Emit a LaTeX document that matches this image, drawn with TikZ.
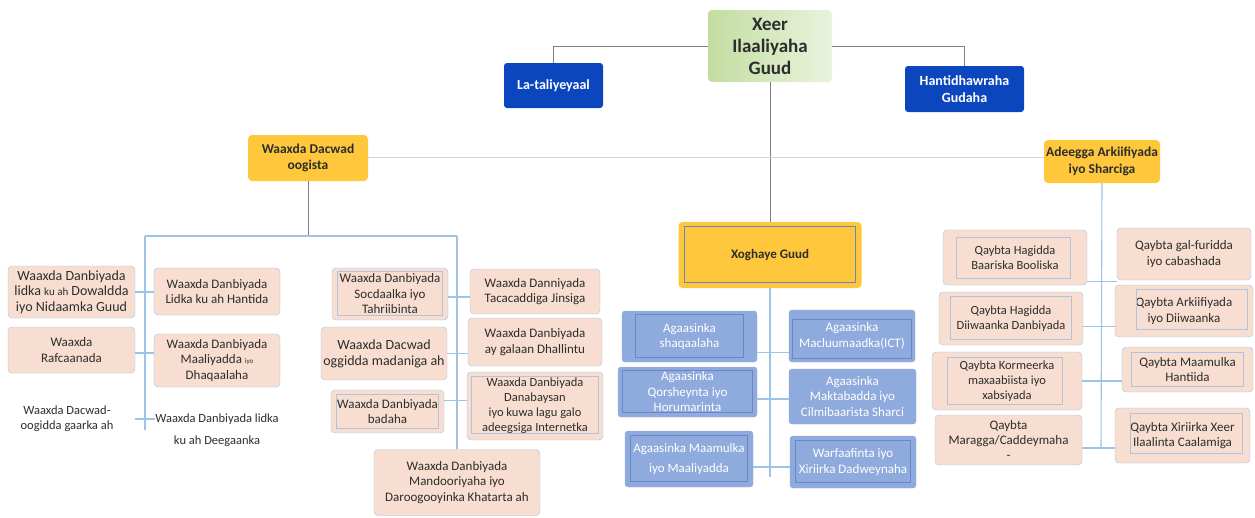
\documentclass[tikz,border=0pt]{standalone}
\usepackage{fontspec}
\setmainfont{Carlito}

\definecolor{peach}{RGB}{248,222,208}
\definecolor{lineblue}{RGB}{157,195,230}
\definecolor{boxblue}{RGB}{143,170,220}
\definecolor{framblue}{RGB}{105,135,200}
\definecolor{peachframe}{RGB}{175,196,220}
\definecolor{navy}{RGB}{12,70,190}
\definecolor{gold}{RGB}{255,200,60}
\definecolor{rootgreenA}{RGB}{194,221,160}
\definecolor{rootgreenB}{RGB}{234,243,222}
\definecolor{greyline}{RGB}{128,128,128}
\definecolor{lightgrey}{RGB}{212,212,212}
\definecolor{textdark}{RGB}{45,45,45}

\begin{document}
\begin{tikzpicture}[x=1pt,y=-1pt,
    rootbox/.style={rounded corners=4pt,left color=rootgreenA,right color=rootgreenB,align=center,text=textdark,font=\fontsize{19}{22}\selectfont\bfseries,inner sep=1pt},
    navybox/.style={rounded corners=3pt,fill=navy,align=center,text=white,font=\fontsize{14}{17}\selectfont\bfseries,inner sep=1pt},
    goldbox/.style={rounded corners=4pt,fill=gold,align=center,text=textdark,font=\fontsize{13.5}{16.5}\selectfont\bfseries,inner sep=1pt},
    peachbox/.style={rounded corners=4pt,fill=peach,draw=lineblue,align=center,text=textdark,font=\fontsize{13}{15.5}\selectfont,inner sep=1pt},
    bluebox/.style={rounded corners=3pt,fill=boxblue,draw=boxblue,align=center,text=white,font=\fontsize{13}{15.5}\selectfont,inner sep=1pt},
    plaintext/.style={align=center,text=textdark,font=\fontsize{12.5}{15}\selectfont,inner sep=0pt},
    topline/.style={draw=greyline,line width=0.9pt},
    faintline/.style={draw=lightgrey,line width=0.9pt},
    bus/.style={draw=lineblue,line width=1.1pt},
    blueframe/.style={draw=framblue,line width=0.8pt},
    peachrule/.style={draw=peachframe,line width=0.7pt}]

    \useasboundingbox (0,0) rectangle (1255,517);

    \node[rootbox,minimum width=124pt,minimum height=72pt] (root) at (770,46) {Xeer\\Ilaaliyaha\\Guud};
    \node[navybox,minimum width=99pt,minimum height=45pt] (lati) at (553.5,85.5) {La-taliyeyaal};
    \node[navybox,minimum width=119pt,minimum height=46pt] (hanti) at (964.5,89) {Hantidhawraha\\Gudaha};

    \node[goldbox,minimum width=120pt,minimum height=46pt] (W0) at (308,158) {Waaxda Dacwad\\oogista};
    \node[goldbox,minimum width=116pt,minimum height=43pt] (A0) at (1102,161.5) {Adeegga Arkiifiyada\\iyo Sharciga};
    \node[goldbox,font=\fontsize{13}{15}\selectfont\bfseries,minimum width=183pt,minimum height=66pt] (X0) at (770,255) {Xoghaye Guud};

    \node[peachbox,font=\fontsize{14}{15.5}\selectfont,minimum width=127pt,minimum height=52pt] (W1_1) at (71.5,292) {Waaxda Danbiyada\\lidka {\fontsize{11}{11}\selectfont ku ah} Dowaldda\\iyo Nidaamka Guud};
    \node[peachbox,minimum width=127pt,minimum height=46pt] (W1_2) at (71.5,350) {Waaxda\\Rafcaanada};
    \node[plaintext,minimum width=136pt] (W1_3) at (67,419) {Waaxda Dacwad-\\oogidda gaarka ah};

    \node[peachbox,minimum width=126pt,minimum height=47pt] (W2_1) at (217,291.5) {Waaxda Danbiyada\\Lidka ku ah Hantida};
    \node[peachbox,minimum width=126pt,minimum height=53pt] (W2_2) at (217,360.5) {Waaxda Danbiyada\\Maaliyadda {\fontsize{7}{7}\selectfont iyo}\\Dhaqaalaha};
    \node[plaintext,font=\fontsize{12.5}{22}\selectfont] (W2_3) at (217,430) {Waaxda Danbiyada lidka\\ku ah Deegaanka};

    \node[peachbox,minimum width=116pt,minimum height=52pt] (W3_1) at (390,294) {Waaxda Danbiyada\\Socdaalka iyo\\Tahriibinta};
    \node[peachbox,font=\fontsize{14}{16}\selectfont,minimum width=126pt,minimum height=53pt] (W3_2) at (384,353.5) {Waaxda Dacwad\\oggidda madaniga ah};
    \node[peachbox,minimum width=113pt,minimum height=43pt] (W3_3) at (387.5,411.5) {Waaxda Danbiyada\\badaha};

    \node[peachbox,minimum width=130pt,minimum height=45pt] (W4_1) at (535,291.5) {Waaxda Danniyada\\Tacacaddiga Jinsiga};
    \node[peachbox,minimum width=134pt,minimum height=48pt] (W4_2) at (535,342) {Waaxda Danbiyada\\ay galaan Dhallintu};
    \node[peachbox,font=\fontsize{12.5}{15}\selectfont,minimum width=136pt,minimum height=68pt] (W4_3) at (535,406) {Waaxda Danbiyada\\Danabaysan\\iyo kuwa lagu galo\\adeegsiga Internetka};

    \node[peachbox,minimum width=166pt,minimum height=66pt] (W5_1) at (457,482.5) {Waaxda Danbiyada\\Mandooriyaha iyo\\Daroogooyinka Khatarta ah};

    \node[bluebox,minimum width=135pt,minimum height=51pt] (G1_1) at (689.5,336.5) {Agaasinka\\shaqaalaha};
    \node[bluebox,minimum width=139pt,minimum height=50pt] (G1_2) at (687.5,392) {Agaasinka\\Qorsheynta iyo\\Horumarinta};
    \node[bluebox,font=\fontsize{13}{20}\selectfont,minimum width=128pt,minimum height=56pt] (G1_3) at (689,459) {Agaasinka Maamulka\\iyo Maaliyadda};

    \node[bluebox,minimum width=126pt,minimum height=52pt] (G2_1) at (852,336) {Agaasinka\\Macluumaadka(ICT)};
    \node[bluebox,minimum width=127pt,minimum height=55pt] (G2_2) at (852.5,396.5) {Agaasinka\\Maktabadda iyo\\Cilmibaarista Sharci};
    \node[bluebox,minimum width=126pt,minimum height=52pt] (G2_3) at (853,462) {Warfaafinta iyo\\Xiriirka Dadweynaha};

    \node[peachbox,font=\fontsize{12.5}{15.5}\selectfont,minimum width=144pt,minimum height=55pt] (Q1_1) at (1015,257.5) {Qaybta Hagidda\\Baariska Booliska};
    \node[peachbox,font=\fontsize{12.5}{15.5}\selectfont,minimum width=144pt,minimum height=53pt] (Q1_2) at (1011,318.5) {Qaybta Hagidda\\Diiwaanka Danbiyada};
    \node[peachbox,font=\fontsize{12.5}{15}\selectfont,minimum width=150pt,minimum height=58pt] (Q1_3) at (1007,381) {Qaybta Kormeerka\\maxaabiista iyo\\xabsiyada};
    \node[peachbox,font=\fontsize{13}{15}\selectfont,minimum width=147pt,minimum height=50pt] (Q1_4) at (1008.5,440) {Qaybta\\Maragga/Caddeymaha\\-};

    \node[peachbox,minimum width=134pt,minimum height=52pt] (Q2_1) at (1184,254) {Qaybta gal-furidda\\iyo cabashada};
    \node[peachbox,minimum width=138pt,minimum height=52pt] (Q2_2) at (1184,311) {Qaybta Arkiifiyada\\iyo Diiwaanka};
    \node[peachbox,minimum width=131pt,minimum height=45pt] (Q2_3) at (1187.5,369.5) {Qaybta Maamulka\\Hantiida};
    \node[peachbox,minimum width=135pt,minimum height=55pt] (Q2_4) at (1182.5,435.5) {Qaybta Xiriirka Xeer\\Ilaalinta Caalamiga};

    \draw[blueframe] ([shift={(6pt,-5pt)}]X0.north west) rectangle ([shift={(-6pt,6pt)}]X0.south east);
    \draw[blueframe] ([shift={(14pt,-4pt)}]G1_1.north west) rectangle ([shift={(-14pt,5pt)}]G1_1.south east);
    \draw[blueframe] ([shift={(5pt,-4pt)}]G1_2.north west) rectangle ([shift={(-5pt,5pt)}]G1_2.south east);
    \draw[blueframe] ([shift={(6pt,-5pt)}]G1_3.north west) rectangle ([shift={(-6pt,6pt)}]G1_3.south east);
    \draw[blueframe] ([shift={(4pt,-10pt)}]G2_1.north west) rectangle ([shift={(-4pt,4pt)}]G2_1.south east);
    \draw[blueframe] ([shift={(6pt,-5pt)}]G2_3.north west) rectangle ([shift={(-6pt,6pt)}]G2_3.south east);

    \draw[peachrule] ([shift={(6pt,-4pt)}]W3_1.north west) rectangle ([shift={(-6pt,5pt)}]W3_1.south east);
    \draw[peachrule] ([shift={(6pt,-5pt)}]W3_3.north west) rectangle ([shift={(-6pt,5pt)}]W3_3.south east);
    \draw[peachrule] ([shift={(5pt,-5pt)}]W4_3.north west) rectangle ([shift={(-5pt,7pt)}]W4_3.south east);
    \draw[peachrule] ([shift={(14pt,-8pt)}]Q1_1.north west) rectangle ([shift={(-17pt,7pt)}]Q1_1.south east);
    \draw[peachrule] ([shift={(12pt,-5pt)}]Q1_2.north west) rectangle ([shift={(-12pt,6pt)}]Q1_2.south east);
    \draw[peachrule] ([shift={(16pt,-6pt)}]Q1_3.north west) rectangle ([shift={(-20pt,6pt)}]Q1_3.south east);
    \draw[peachrule] ([shift={(22pt,-5pt)}]Q2_2.north west) rectangle ([shift={(-6pt,8pt)}]Q2_2.south east);
    \draw[peachrule] ([shift={(10pt,-6pt)}]Q2_3.north west) rectangle ([shift={(-10pt,6pt)}]Q2_3.south east);
    \draw[peachrule] ([shift={(16pt,-6pt)}]Q2_4.north west) rectangle ([shift={(-8pt,10pt)}]Q2_4.south east);

    \draw[topline] (root.west) -| (lati.north);
    \draw[topline] (root.east) -| (hanti.north);
    \draw[topline] (root.south) -- (X0.north);
    \draw[faintline] ([yshift=1pt]W0.east) coordinate (w0e) -- (w0e -| A0.west);

    \coordinate (busL) at (145,236);
    \coordinate (busR) at (457,236);
    \coordinate (busL_end) at (145,430);
    \coordinate (X0_end) at (770,477);
    \coordinate (A0_end) at (1101,448);

    \draw[topline] (W0.south) -- (W0.south |- busL);
    \draw[bus] (busL) -- (busR);
    \draw[bus] (busL) -- (busL_end);
    \draw[bus] (busR) -- (W5_1.north);
    \draw[bus] (X0.south) -- (X0_end);
    \draw[bus] (A0.south) -- (A0_end);

    \draw[bus] (W1_1.east) coordinate (c11) -- (c11 -| W2_1.west);
    \draw[bus] ([yshift=-3pt]W1_2.east) coordinate (c12) -- (c12 -| W2_2.west);
    \draw[bus] (W1_3.east) coordinate (c13) -- (c13 -| W2_3.west);

    \draw[bus] ([yshift=-3pt]W3_1.east) coordinate (c31) -- (c31 -| W4_1.west);
    \draw[bus] (W3_2.east) coordinate (c32) -- (c32 -| W4_2.west);
    \draw[bus] ([yshift=11pt]W3_3.east) coordinate (c33) -- (c33 -| W4_3.west);

    \draw[bus] ([yshift=-16pt]G1_1.east) coordinate (g11) -- (g11 -| G2_1.west);
    \draw[bus] ([yshift=-7pt]G1_2.east) coordinate (g12) -- (g12 -| G2_2.west);
    \draw[bus] ([yshift=-8pt]G1_3.east) coordinate (g13) -- (g13 -| G2_3.west);

    \draw[bus] ([yshift=-24pt]Q1_1.east) coordinate (q11) -- (q11 -| Q2_1.west);
    \draw[bus] ([yshift=-8pt]Q1_2.east) coordinate (q12) -- (q12 -| Q2_2.west);
    \draw[bus] (Q1_3.east) coordinate (q13) -- (q13 -| Q2_3.west);
    \draw[bus] ([yshift=-8pt]Q1_4.east) coordinate (q14) -- (q14 -| Q2_4.west);

\end{tikzpicture}
\end{document}
